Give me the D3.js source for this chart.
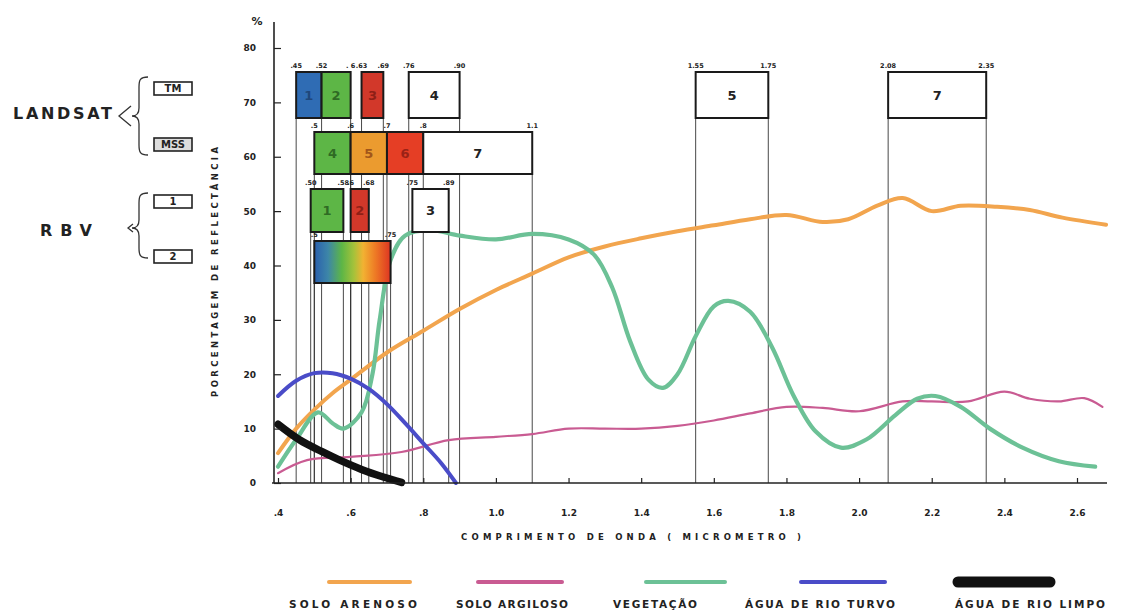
<!DOCTYPE html>
<html>
<head>
<meta charset="utf-8">
<script src="https://cdn.jsdelivr.net/npm/d3@7"></script>
<style>
  body { margin: 0; background: #fff; }
  text { font-family: "DejaVu Sans", sans-serif; font-weight: bold; fill: #222; }
</style>
</head>
<body>
<svg width="1131" height="615"></svg>
<script>
// ---- data ----
const wavelengthTicks = [0.4, 0.6, 0.8, 1.0, 1.2, 1.4, 1.6, 1.8, 2.0, 2.2, 2.4, 2.6];
const wavelengthLabels = ['.4', '.6', '.8', '1.0', '1.2', '1.4', '1.6', '1.8', '2.0', '2.2', '2.4', '2.6'];
const reflectTicks = [0, 10, 20, 30, 40, 50, 60, 70, 80];

const soloArenoso = [[0.4, 5.5], [0.45, 10], [0.5, 13.5], [0.55, 16.5], [0.6, 19], [0.7, 24], [0.8, 28],
  [0.9, 32], [1.0, 35.5], [1.1, 38.5], [1.2, 41.5], [1.3, 43.5], [1.4, 45], [1.5, 46.3], [1.6, 47.4],
  [1.7, 48.5], [1.8, 49.3], [1.9, 48], [1.97, 48.5], [2.05, 51], [2.12, 52.4], [2.2, 50], [2.28, 51],
  [2.38, 50.8], [2.47, 50.2], [2.56, 48.8], [2.68, 47.5]];
const soloArgiloso = [[0.4, 1.8], [0.48, 4.2], [0.6, 4.8], [0.74, 5.7], [0.87, 7.9], [1.0, 8.5], [1.1, 9],
  [1.2, 10], [1.3, 10], [1.4, 10], [1.5, 10.5], [1.6, 11.5], [1.7, 12.8], [1.8, 14], [1.9, 13.8],
  [2.0, 13.2], [2.12, 15], [2.2, 15], [2.3, 15], [2.4, 16.8], [2.47, 15.5], [2.55, 15], [2.62, 15.6], [2.67, 14]];
const vegetacao = [[0.4, 3], [0.45, 8], [0.51, 13], [0.55, 11], [0.58, 10], [0.63, 13], [0.66, 20],
  [0.68, 30], [0.71, 41], [0.75, 45.5], [0.82, 46.5], [0.9, 45.5], [1.0, 44.8], [1.1, 45.8], [1.2, 44.8],
  [1.27, 42], [1.32, 36], [1.37, 26], [1.42, 19], [1.46, 17.5], [1.5, 20], [1.55, 27], [1.6, 32.5],
  [1.64, 33.5], [1.7, 31.5], [1.76, 25], [1.82, 16], [1.88, 9.5], [1.95, 6.5], [2.02, 8], [2.1, 12.5],
  [2.16, 15.5], [2.21, 16], [2.28, 14], [2.36, 10], [2.45, 6.5], [2.55, 4], [2.65, 3]];
const aguaTurva = [[0.4, 16], [0.45, 18.8], [0.5, 20.2], [0.55, 20.2], [0.6, 19.2], [0.65, 17.3],
  [0.7, 14.5], [0.75, 11], [0.8, 7.3], [0.85, 3.6], [0.89, 0]];
const aguaLimpa = [[0.4, 10.8], [0.46, 7.9], [0.52, 5.8], [0.57, 4.2], [0.63, 2.5], [0.69, 1.1], [0.74, 0.1]];

// sensor bands: [from, to, band number]
const tmBands = [[0.45, 0.52, '1'], [0.52, 0.60, '2'], [0.63, 0.69, '3'], [0.76, 0.90, '4'],
  [1.55, 1.75, '5'], [2.08, 2.35, '7']];
const tmEdges = [0.45, 0.52, 0.60, 0.63, 0.69, 0.76, 0.90, 1.55, 1.75, 2.08, 2.35];
const tmEdgeLabels = ['.45', '.52', '. 6', '.63', '.69', '.76', '.90', '1.55', '1.75', '2.08', '2.35'];
const mssBands = [[0.5, 0.6, '4'], [0.6, 0.7, '5'], [0.7, 0.8, '6'], [0.8, 1.1, '7']];
const mssEdges = [0.5, 0.6, 0.7, 0.8, 1.1];
const mssEdgeLabels = ['.5', '.6', '.7', '.8', '1.1'];
const rbv1Bands = [[0.49, 0.58, '1'], [0.6, 0.65, '2'], [0.77, 0.87, '3']];
const rbv1Edges = [0.49, 0.58, 0.6, 0.65, 0.77, 0.87];
const rbv1EdgeLabels = ['.50', '.58', '.6', '.68', '.75', '.89'];
const rbv2Bands = [[0.5, 0.71, '']];
const rbv2Edges = [0.5, 0.71];
const rbv2EdgeLabels = ['.5', '.75'];

const legendLabels = ['SOLO  ARENOSO', 'SOLO  ARGILOSO', 'VEGETAÇÃO', 'ÁGUA DE RIO TURVO', 'ÁGUA DE RIO LIMPO'];

// ---- styles ----
const curveColors = ['#f2a54e', '#c95b92', '#6cc196', '#4a4cc8', '#111'];
const curveWidths = [4, 2.2, 4.2, 4, 7.5];
const tmFills = ['#2f6cb4', '#5db646', '#d2382a', '#fff', '#fff', '#fff'];
const mssFills = ['#5db646', '#eb9b2f', '#e53e25', '#fff'];
const rbv1Fills = ['#5db646', '#d2382a', '#fff'];
const inkFor = { '#2f6cb4': '#1f477a', '#5db646': '#2f6b24', '#d2382a': '#8e1f16', '#eb9b2f': '#a2561a', '#e53e25': '#9a2216', '#fff': '#222' };

const svg = d3.select('svg');
const x = d3.scaleLinear().domain([0.4, 2.6]).range([278, 1077]);
const y = d3.scaleLinear().domain([0, 80]).range([483, 48]);

const defs = svg.append('defs');
const grad = defs.append('linearGradient').attr('id', 'rainbow');
[['0', '#2a5fae'], ['0.18', '#3d86a8'], ['0.36', '#5db646'], ['0.52', '#a6c23a'], ['0.64', '#f2b232'],
  ['0.8', '#ee7a25'], ['1', '#de3522']].forEach(s => grad.append('stop').attr('offset', s[0]).attr('stop-color', s[1]));

// ---- band rows ----
const rows = [
  { bands: tmBands, edges: tmEdges, labels: tmEdgeLabels, fills: tmFills, top: 72, bottom: 118 },
  { bands: mssBands, edges: mssEdges, labels: mssEdgeLabels, fills: mssFills, top: 132, bottom: 174 },
  { bands: rbv1Bands, edges: rbv1Edges, labels: rbv1EdgeLabels, fills: rbv1Fills, top: 189, bottom: 232 },
  { bands: rbv2Bands, edges: rbv2Edges, labels: rbv2EdgeLabels, fills: ['url(#rainbow)'], top: 241, bottom: 283 }
];

// drop lines from each band edge to the axis
const drops = svg.append('g').attr('stroke', '#333').attr('stroke-width', 0.9);
rows.forEach(r => {
  drops.selectAll(null)
    .data(r.edges)
    .enter().append('line')
    .attr('x1', d => x(d)).attr('x2', d => x(d))
    .attr('y1', r.bottom).attr('y2', y(0));
});

// curves
const line = d3.line()
  .x(d => x(d[0]))
  .y(d => y(d[1]))
  .curve(d3.curveCatmullRom.alpha(0.5));

const series = [soloArenoso, soloArgiloso, vegetacao, aguaTurva, aguaLimpa];
svg.append('g').selectAll('path')
  .data(series)
  .enter().append('path')
  .attr('d', line)
  .attr('fill', 'none')
  .attr('stroke', (d, i) => curveColors[i])
  .attr('stroke-width', (d, i) => curveWidths[i])
  .attr('stroke-linecap', 'round')
  .attr('stroke-linejoin', 'round');

// boxes
rows.forEach(r => {
  const g = svg.append('g');
  const box = g.selectAll('g')
    .data(r.bands)
    .enter().append('g');
  box.append('rect')
    .attr('x', d => x(d[0]))
    .attr('y', r.top)
    .attr('width', d => x(d[1]) - x(d[0]))
    .attr('height', r.bottom - r.top)
    .attr('fill', (d, i) => r.fills[i])
    .attr('stroke', '#1a1a1a')
    .attr('stroke-width', 2);
  box.append('text')
    .attr('x', d => (x(d[0]) + x(d[1])) / 2)
    .attr('y', (r.top + r.bottom) / 2)
    .attr('dy', '0.35em')
    .attr('text-anchor', 'middle')
    .attr('font-size', 13)
    .style('fill', (d, i) => inkFor[r.fills[i]] || '#222')
    .text(d => d[2]);
  g.selectAll('.edge')
    .data(r.edges)
    .enter().append('text')
    .attr('class', 'edge')
    .attr('x', d => x(d))
    .attr('y', r.top - 4)
    .attr('text-anchor', 'middle')
    .attr('font-size', 6.5)
    .text((d, i) => r.labels[i]);
});

// ---- axes ----
const xAxis = svg.append('g')
  .attr('transform', `translate(0,${y(0)})`)
  .call(d3.axisBottom(x)
    .tickValues(wavelengthTicks)
    .tickFormat((d, i) => wavelengthLabels[i])
    .tickSizeInner(-5)
    .tickSizeOuter(0)
    .tickPadding(27));
xAxis.select('.domain').remove();
xAxis.selectAll('line').attr('stroke', '#222').attr('stroke-width', 1.2);
xAxis.selectAll('text').attr('font-size', 9).style('font-family', '"DejaVu Sans", sans-serif').style('font-weight', 'bold');

const yAxis = svg.append('g')
  .attr('transform', `translate(274,0)`)
  .call(d3.axisLeft(y)
    .tickValues(reflectTicks)
    .tickSizeInner(-7)
    .tickSizeOuter(0)
    .tickPadding(18));
yAxis.select('.domain').remove();
yAxis.selectAll('line').attr('stroke', '#222').attr('stroke-width', 1.2);
yAxis.selectAll('text').attr('font-size', 9).style('font-family', '"DejaVu Sans", sans-serif').style('font-weight', 'bold');

svg.append('line').attr('x1', 272).attr('x2', 1107).attr('y1', y(0)).attr('y2', y(0))
  .attr('stroke', '#222').attr('stroke-width', 1.6);
svg.append('line').attr('x1', 274).attr('x2', 274).attr('y1', 22).attr('y2', y(0))
  .attr('stroke', '#222').attr('stroke-width', 1.6);

svg.append('text').attr('x', 257).attr('y', 25).attr('text-anchor', 'middle')
  .attr('font-size', 11).text('%');

svg.append('text')
  .attr('transform', 'translate(218,272) rotate(-90)')
  .attr('text-anchor', 'middle')
  .attr('font-size', 8.5)
  .attr('textLength', 250)
  .attr('lengthAdjust', 'spacing')
  .text('PORCENTAGEM  DE  REFLECTÂNCIA');

svg.append('text')
  .attr('x', 631).attr('y', 540)
  .attr('text-anchor', 'middle')
  .attr('font-size', 8.5)
  .attr('textLength', 340)
  .attr('lengthAdjust', 'spacing')
  .text('COMPRIMENTO   DE   ONDA ( MICROMETRO )');

// ---- sensor names on the left ----
svg.append('text').attr('x', 13).attr('y', 119).attr('font-size', 16)
  .attr('textLength', 99).attr('lengthAdjust', 'spacing').text('LANDSAT');
svg.append('text').attr('x', 40).attr('y', 236).attr('font-size', 16)
  .attr('textLength', 52).attr('lengthAdjust', 'spacing').text('RBV');

const brace = (top, bottom, mid) =>
  `M148,${top} C140,${top} 139,${top + 3} 139,${top + 10} L139,${mid - 8} C139,${mid - 3} 137,${mid} 132,${mid}` +
  ` C137,${mid} 139,${mid + 3} 139,${mid + 8} L139,${bottom - 10} C139,${bottom - 3} 140,${bottom} 148,${bottom}`;
const marks = svg.append('g').attr('fill', 'none').attr('stroke', '#333').attr('stroke-width', 1.3);
marks.append('path').attr('d', brace(77, 155, 116));
marks.append('path').attr('d', 'M131,106 L119,116 L131,126');
marks.append('path').attr('d', brace(193, 258, 228));
marks.append('path').attr('d', 'M133,224 L128,228 L133,232');

const sensorBoxes = [['TM', 82], ['MSS', 138], ['1', 195], ['2', 250]];
const sb = svg.append('g').selectAll('g').data(sensorBoxes).enter().append('g');
sb.append('rect')
  .attr('x', 154).attr('y', d => d[1])
  .attr('width', 38).attr('height', 13)
  .attr('fill', (d, i) => i === 1 ? '#ddd' : '#fff')
  .attr('stroke', '#222').attr('stroke-width', 1.6);
sb.append('text')
  .attr('x', 173).attr('y', d => d[1] + 6.5).attr('dy', '0.35em')
  .attr('text-anchor', 'middle').attr('font-size', 10)
  .text(d => d[0]);

// ---- legend ----
const legendTextX = [353, 512, 655, 820, 1030];
const legendTextW = [128, 112, 84, 150, 150];
const legendLine = [[329, 410], [478, 562], [646, 725], [801, 885], [958, 1050]];
const legend = svg.append('g').selectAll('g').data(legendLabels).enter().append('g');
legend.append('line')
  .attr('x1', (d, i) => legendLine[i][0]).attr('x2', (d, i) => legendLine[i][1])
  .attr('y1', 582).attr('y2', 582)
  .attr('stroke', (d, i) => curveColors[i])
  .attr('stroke-width', (d, i) => i === 4 ? 11 : 4)
  .attr('stroke-linecap', 'round');
legend.append('text')
  .attr('x', (d, i) => legendTextX[i]).attr('y', 608)
  .attr('text-anchor', 'middle')
  .attr('font-size', 10.5)
  .attr('textLength', (d, i) => legendTextW[i])
  .attr('lengthAdjust', 'spacing')
  .text(d => d);
</script>
</body>
</html>
